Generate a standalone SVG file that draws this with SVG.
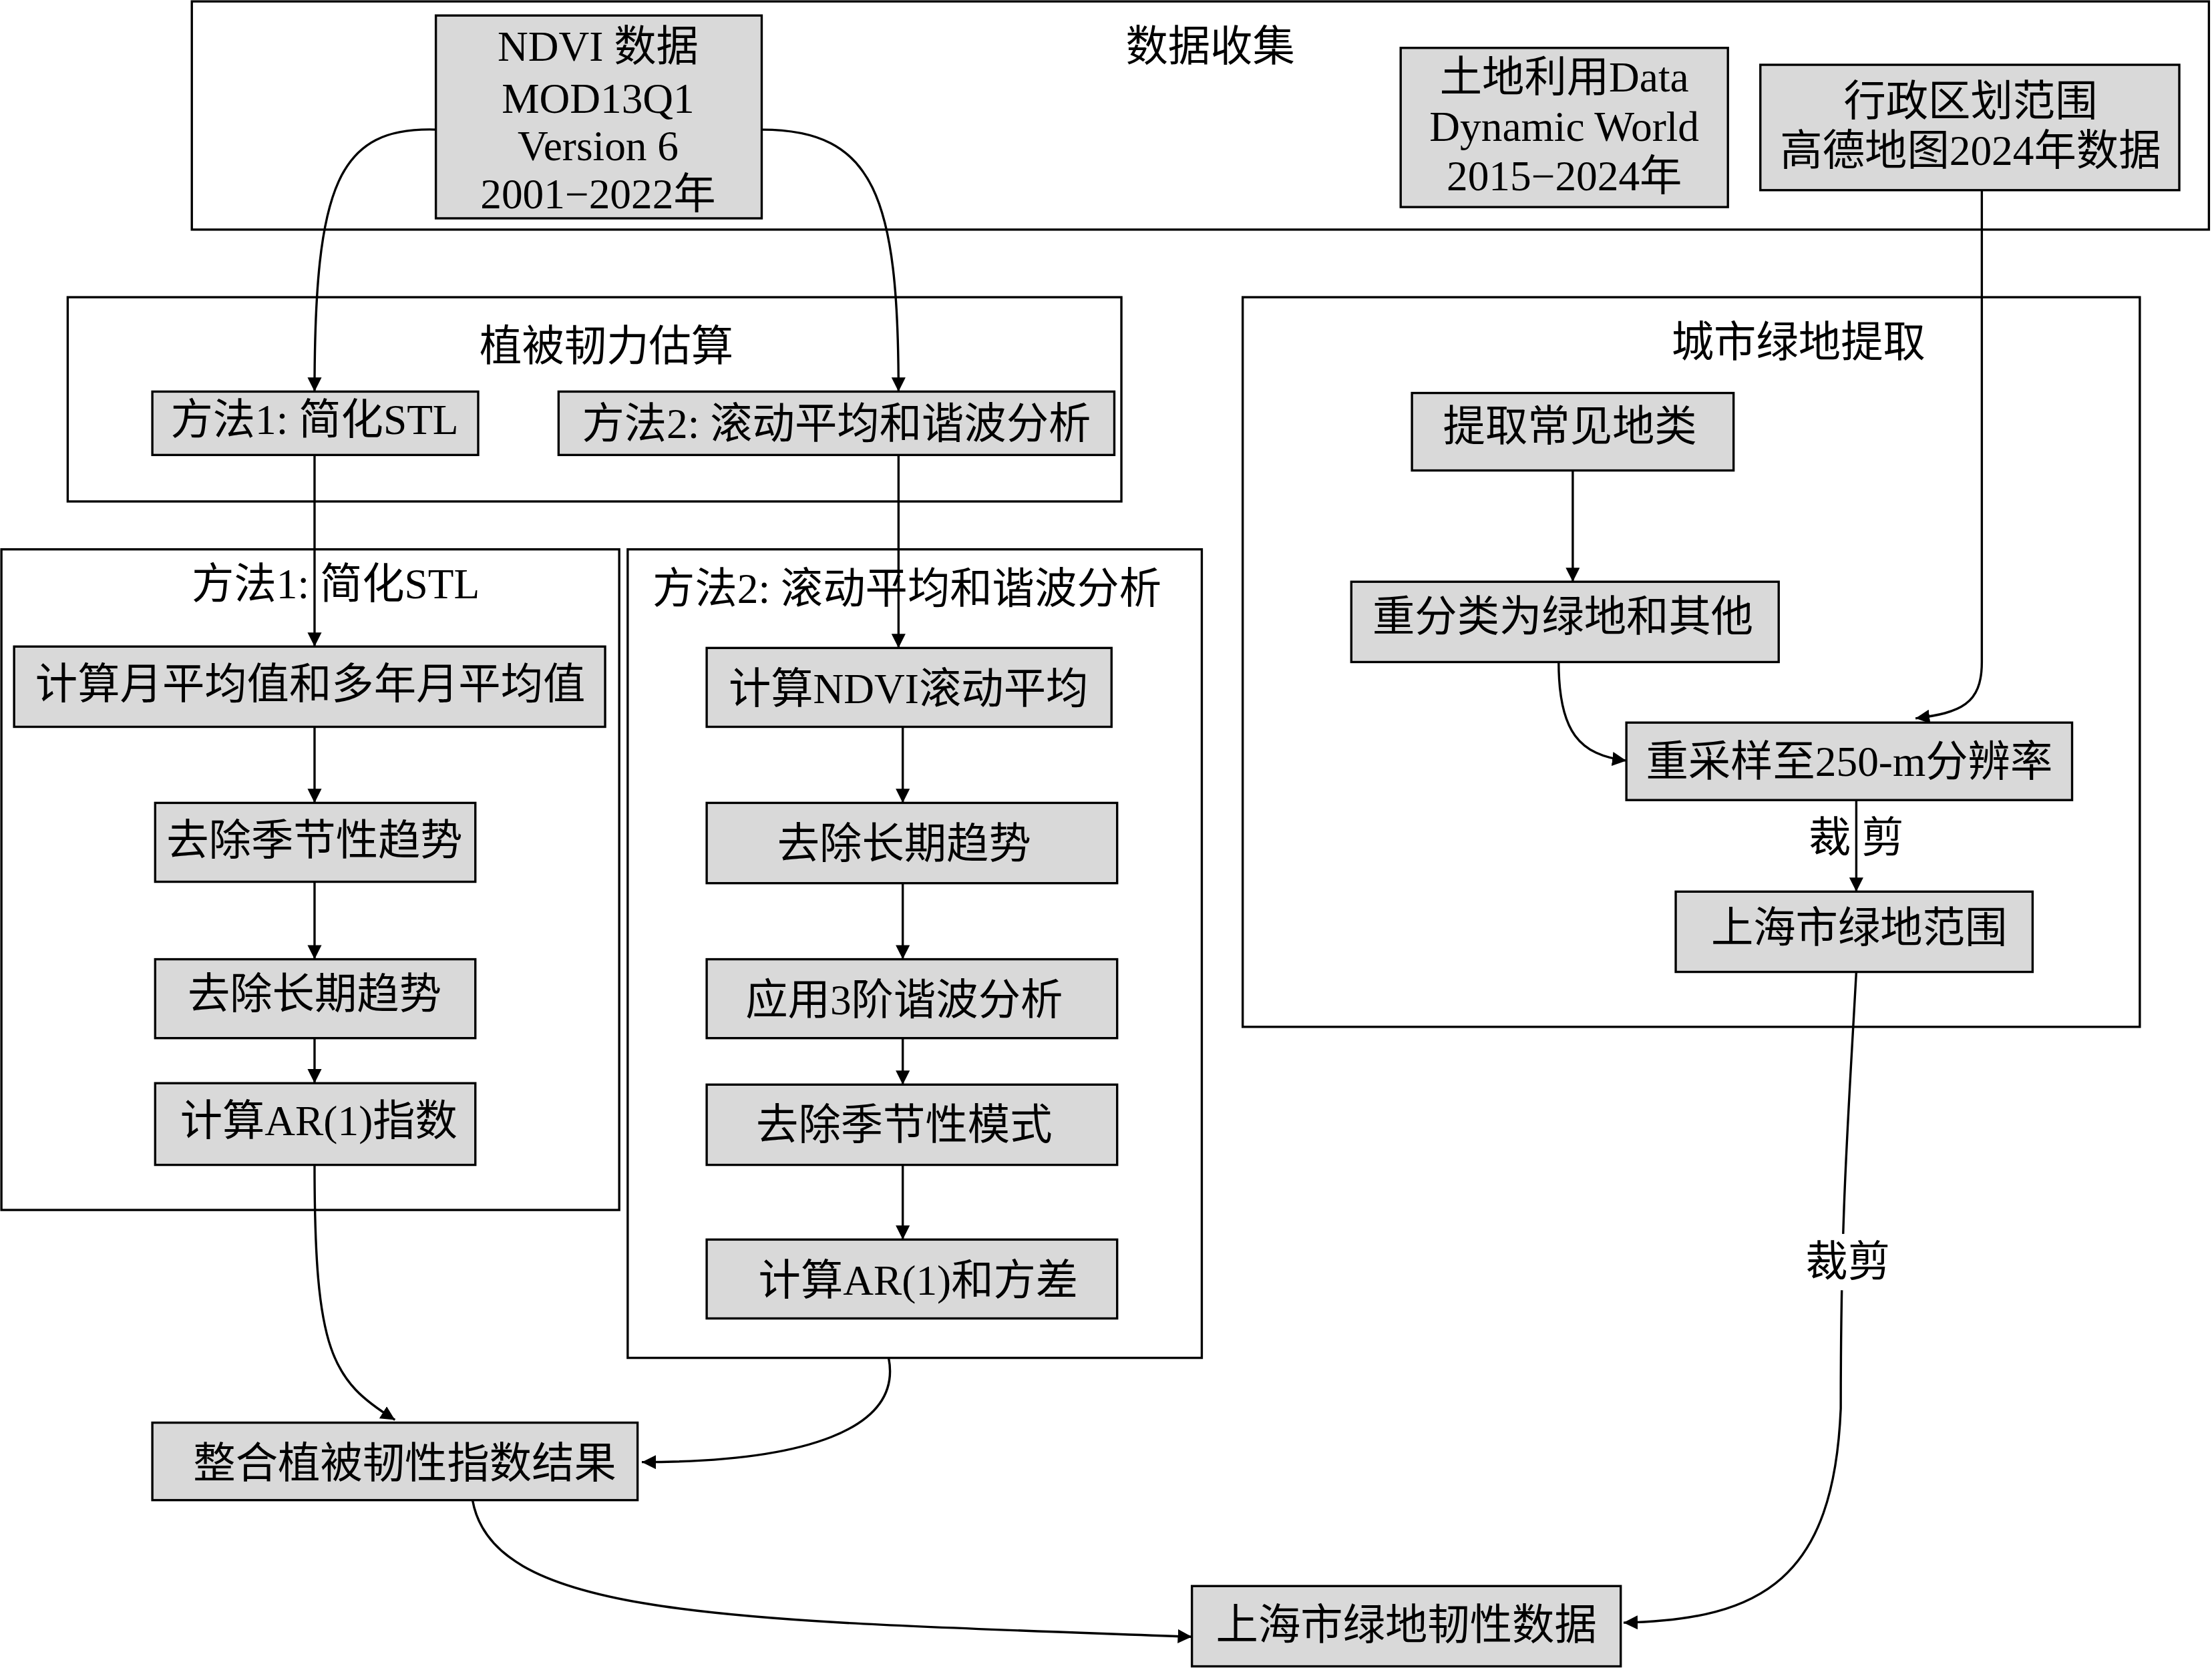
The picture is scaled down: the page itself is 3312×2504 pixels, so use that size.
<svg xmlns="http://www.w3.org/2000/svg" width="3312" height="2504" viewBox="0 0 3312 2504">
<defs>
<style>
.frame{fill:#fff;stroke:#000;stroke-width:1.6}
.node{fill:#d9d9d9;stroke:#000;stroke-width:1.6}
text{font-family:"Liberation Serif","Noto Sans CJK SC",serif;font-size:30px;text-anchor:middle;dominant-baseline:central;fill:#000}
.c{fill:none;stroke:#000;stroke-width:1.6;marker-end:url(#a)}
</style>
<marker id="a" viewBox="0 0 10 10" refX="10" refY="5" markerWidth="10" markerHeight="10" markerUnits="userSpaceOnUse" orient="auto"><path d="M0,0 L10,5 L0,10 Z" fill="#000"/></marker>
</defs>
<rect width="3312" height="2504" fill="#fff"/>
<g transform="scale(2.112,2.1095)">
<g id="frames">
<rect class="frame" x="136" y="1" width="1430" height="162"/>
<text x="858" y="33">数据收集</text>
<rect class="frame" x="48" y="211" width="747" height="145"/>
<text x="430" y="246">植被韧力估算</text>
<rect class="frame" x="1" y="390" width="438" height="469"/>
<text x="238" y="415">方法1: 简化STL</text>
<rect class="frame" x="445" y="390" width="407" height="574"/>
<text x="643" y="418">方法2: 滚动平均和谐波分析</text>
<rect class="frame" x="881" y="211" width="636" height="518"/>
<text x="1275" y="243">城市绿地提取</text>
</g>
<g id="connectors">
<path class="c" d="M309,92 C240,90 223,130 223,278"/>
<path class="c" d="M540,92 C620,92 637,140 637,278"/>
<path class="c" d="M223,323 L223,459"/>
<path class="c" d="M637,323 L637,460"/>
<path class="c" d="M223,516 L223,570"/>
<path class="c" d="M223,626 L223,681"/>
<path class="c" d="M223,737 L223,769"/>
<path class="c" d="M640,516 L640,570"/>
<path class="c" d="M640,627 L640,681"/>
<path class="c" d="M640,737 L640,770"/>
<path class="c" d="M640,827 L640,880"/>
<path class="c" d="M223,827 C223,960 235,980 280,1008"/>
<path class="c" d="M630,964 C640,1015 570,1038 455,1038"/>
<path class="c" d="M335,1065 C350,1150 520,1150 845,1162"/>
<path class="c" d="M1405,135 L1405,470 C1405,500 1390,506 1358,510"/>
<path class="c" d="M1115,334 L1115,413"/>
<path class="c" d="M1105,470 C1105,520 1120,536 1153,540"/>
<path class="c" d="M1316,568 L1316,633"/>
<path class="c" d="M1316,690 C1310,800 1305,860 1305,1000 C1300,1120 1250,1150 1151,1152"/>
<text x="1316" y="595">裁 剪</text>
<rect x="1278" y="876" width="64" height="40" fill="#fff"/>
<text x="1310" y="896">裁剪</text>
</g>
<g id="n-ndvi"><rect class="node" x="309" y="11" width="231" height="144"/>
<text x="424" y="33">NDVI 数据</text><text x="424" y="70">MOD13Q1</text><text x="424" y="104">Version 6</text><text x="424" y="138">2001−2022年</text></g>
<g id="n-land"><rect class="node" x="993" y="34" width="232" height="113"/>
<text x="1109" y="55">土地利用Data</text><text x="1109" y="90">Dynamic World</text><text x="1109" y="125">2015−2024年</text></g>
<g id="n-admin"><rect class="node" x="1248" y="46" width="297" height="89"/>
<text x="1397" y="72">行政区划范围</text><text x="1397" y="107">高德地图2024年数据</text></g>
<g id="n-m1"><rect class="node" x="108" y="278" width="231" height="45"/><text x="223" y="298">方法1: 简化STL</text></g>
<g id="n-m2"><rect class="node" x="396" y="278" width="394" height="45"/><text x="593" y="301">方法2: 滚动平均和谐波分析</text></g>
<g id="n-l1"><rect class="node" x="10" y="459" width="419" height="57"/><text x="220" y="486">计算月平均值和多年月平均值</text></g>
<g id="n-l2"><rect class="node" x="110" y="570" width="227" height="56"/><text x="223" y="597">去除季节性趋势</text></g>
<g id="n-l3"><rect class="node" x="110" y="681" width="227" height="56"/><text x="223" y="706">去除长期趋势</text></g>
<g id="n-l4"><rect class="node" x="110" y="769" width="227" height="58"/><text x="226" y="796">计算AR(1)指数</text></g>
<g id="n-r1"><rect class="node" x="501" y="460" width="287" height="56"/><text x="644" y="489">计算NDVI滚动平均</text></g>
<g id="n-r2"><rect class="node" x="501" y="570" width="291" height="57"/><text x="641" y="599">去除长期趋势</text></g>
<g id="n-r3"><rect class="node" x="501" y="681" width="291" height="56"/><text x="641" y="710">应用3阶谐波分析</text></g>
<g id="n-r4"><rect class="node" x="501" y="770" width="291" height="57"/><text x="641" y="799">去除季节性模式</text></g>
<g id="n-r5"><rect class="node" x="501" y="880" width="291" height="56"/><text x="651" y="909">计算AR(1)和方差</text></g>
<g id="n-u1"><rect class="node" x="1001" y="279" width="228" height="55"/><text x="1113" y="303">提取常见地类</text></g>
<g id="n-u2"><rect class="node" x="958" y="413" width="303" height="57"/><text x="1108" y="438">重分类为绿地和其他</text></g>
<g id="n-u3"><rect class="node" x="1153" y="513" width="316" height="55"/><text x="1311" y="541">重采样至250-m分辨率</text></g>
<g id="n-u4"><rect class="node" x="1188" y="633" width="253" height="57"/><text x="1318" y="659">上海市绿地范围</text></g>
<g id="n-int"><rect class="node" x="108" y="1010" width="344" height="55"/><text x="287" y="1039">整合植被韧性指数结果</text></g>
<g id="n-out"><rect class="node" x="845" y="1126" width="304" height="57"/><text x="997" y="1154">上海市绿地韧性数据</text></g>
</g>
</svg>
